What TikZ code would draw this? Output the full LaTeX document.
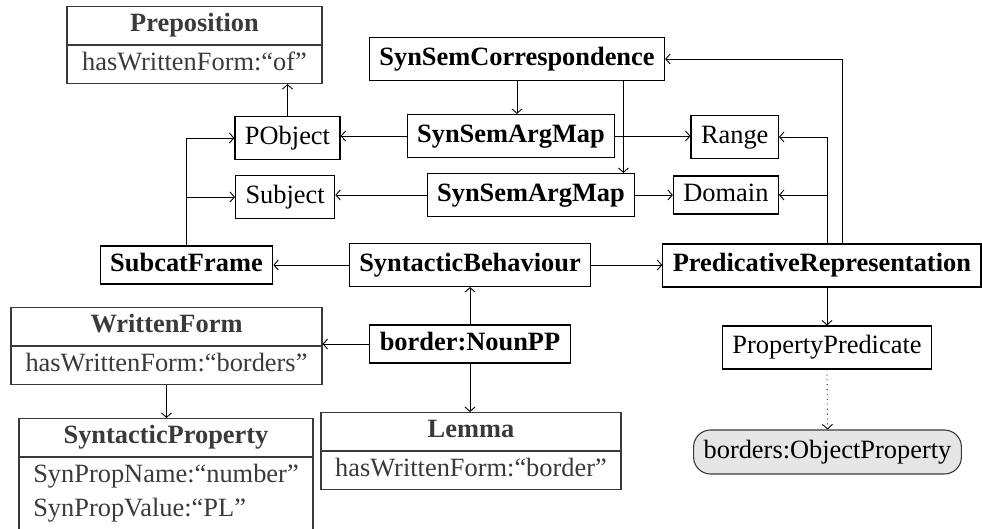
\documentclass[tikz,border=0pt]{standalone}
\usepackage{fontspec}
\setmainfont{Liberation Serif}
\usetikzlibrary{shapes.multipart, calc, arrows.meta}
\definecolor{rgray}{HTML}{3A3A3A}
\definecolor{lfill}{HTML}{E6E6E6}
\newcommand{\vst}{\rule[-3.6pt]{0pt}{13.3pt}}
\tikzset{
  >={Straight Barb[length=2.2pt, width=5pt]},
  font=\fontsize{13.2}{17}\selectfont,
  box/.style={
    draw, line width=0.55pt, inner xsep=5pt, inner ysep=2pt,
    minimum height=21.5pt, text height=9.7pt, text depth=3.6pt
  },
  klass/.style={box, font=\fontsize{13.2}{17}\selectfont\bfseries},
  inst/.style={box},
  lit/.style={box, rounded corners=8.5pt, fill=lfill, draw=rgray, minimum height=22pt},
  record/.style={
    draw=rgray, text=rgray, line width=0.55pt,
    rectangle split, rectangle split parts=2,
    inner xsep=5pt, inner ysep=2.7pt, align=center
  },
  link/.style={->, line width=0.45pt},
  dots/.style={->, dotted, line width=0.45pt}
}
\begin{document}
\begin{tikzpicture}[x=0.5pt, y=-0.5pt]
  \useasboundingbox (0,0) rectangle (982,529);
  % upper part
  \node[record, minimum width=127.5pt, anchor=north] (prep) at (194.5,6)
    {\vst\textbf{Preposition}\nodepart{two}\vst hasWrittenForm:``of''};
  \node[inst] (pobj) at (287.5,138) {PObject};
  \node[inst, anchor=west] (subj) at (235,197) {Subject};
  \node[klass] (corr) at (517,59) {SynSemCorrespondence};
  \node[klass] (mapA) at (511,136) {SynSemArgMap};
  \node[klass] (mapB) at (531,195) {SynSemArgMap};
  \node[inst, anchor=east] (range) at (779,137) {Range};
  \node[inst, anchor=east, minimum height=19pt] (dom) at (779,195) {Domain};
  % middle row
  \node[klass, minimum height=19pt] (subcat) at (186.5,265) {SubcatFrame};
  \node[klass] (synbeh) at (470,265) {SyntacticBehaviour};
  \node[klass, anchor=east] (predrep) at (981.5,265.5) {PredicativeRepresentation};
  % lower part
  \node[klass, minimum height=19pt] (entry) at (470,344) {border:NounPP};
  \node[record, minimum width=155.5pt, anchor=north] (wform) at (166.5,307)
    {\vst\textbf{WrittenForm}\nodepart{two}\vst hasWrittenForm:``borders''};
  \node[record, align=left, minimum width=147pt, anchor=north] (sprop) at (166,418)
    {\vst\textbf{SyntacticProperty}\nodepart{two}\vst SynPropName:``number''\\\vst SynPropValue:``PL''};
  \node[record, minimum width=150pt, anchor=north] (lemma) at (471,412)
    {\vst\textbf{Lemma}\nodepart{two}\vst hasWrittenForm:``border''};
  \node[inst] (pred) at (827,347.5) {PropertyPredicate};
  \node[lit] (oprop) at (827.5,452) {borders:ObjectProperty};

  % connectors
  \coordinate (tapB) at ($(mapB.north east)+(-12,0)$);
  \coordinate (tapC) at ($(predrep.north -| pred.north)+(15,0)$);
  \draw[link] (pobj.north) -- (pobj.north |- prep.south);
  \draw[link] (subcat.north) |- (pobj.west);
  \draw[link] (subcat.north |- subj.west) -- (subj.west);
  \draw[link] (mapA.west) -- (mapA.west -| pobj.east);
  \draw[link] (mapB.west) -- (mapB.west -| subj.east);
  \draw[link] (corr.south) -- (corr.south |- mapA.north);
  \draw[link] (tapB |- corr.south) -- (tapB);
  \draw[link] (mapA.east) -- (mapA.east -| range.west);
  \draw[link] (mapB.east) -- (mapB.east -| dom.west);
  \draw[link] (predrep.north -| pred.north) |- (range.east);
  \draw[link] (dom.east -| pred.north) -- (dom.east);
  \draw[link] (tapC) |- (corr.east);
  \draw[link] (synbeh.west) -- (subcat.east);
  \draw[link] (synbeh.east) -- (synbeh.east -| predrep.west);
  \draw[link] (entry.north) -- (synbeh.south);
  \draw[link] (entry.west) -- (entry.west -| wform.east);
  \draw[link] (entry.south) -- (entry.south |- lemma.north);
  \draw[link] (wform.south) -- (wform.south |- sprop.north);
  \draw[link] (predrep.south -| pred.north) -- (pred.north);
  \draw[dots] (pred.south) -- (oprop.north);
\end{tikzpicture}
\end{document}
